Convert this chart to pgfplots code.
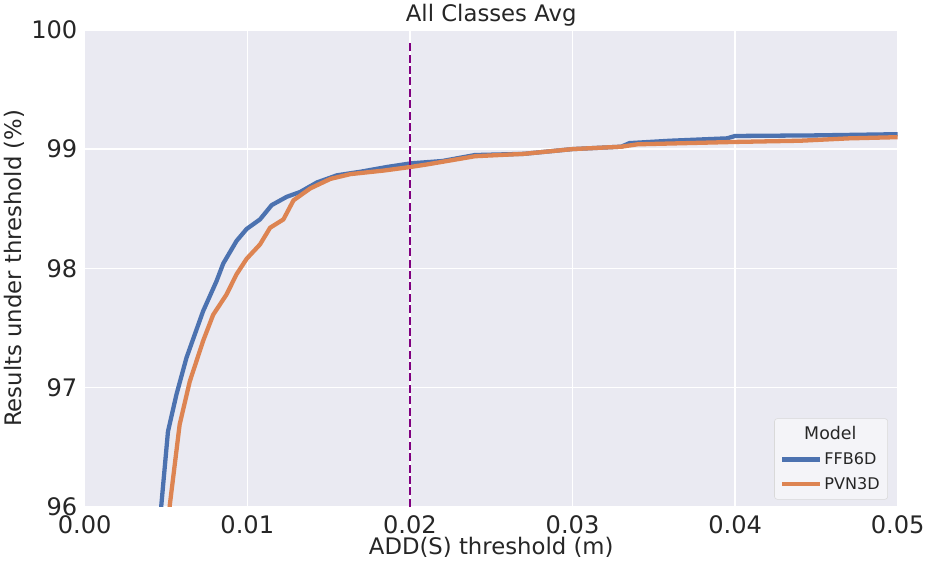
\documentclass[border=0pt]{standalone}
\usepackage{pgfplots}
\pgfplotsset{compat=1.18}
\usepackage{fontspec}
\setmainfont{DejaVu Sans}
\definecolor{sbbg}{HTML}{EAEAF2}
\definecolor{sbblue}{HTML}{4C72B0}
\definecolor{sborange}{HTML}{DD8452}
\definecolor{vpurple}{HTML}{800080}
\begin{document}
\begin{tikzpicture}
\begin{axis}[
  scale only axis,
  width=607pt, height=356pt,
  xmin=0, xmax=0.05, ymin=96, ymax=100,
  xtick={0,0.01,0.02,0.03,0.04,0.05},
  xticklabels={0.00,0.01,0.02,0.03,0.04,0.05},
  ytick={96,97,98,99,100},
  /pgf/number format/assume math mode=true,
  scaled x ticks=false,
  tick label style={font=\fontsize{18}{20}\selectfont, text=black!85},
  xticklabel style={yshift=-3pt},
  yticklabel style={xshift=-2pt},
  major tick length=0pt,
  axis background/.style={fill=sbbg},
  axis line style={draw=none},
  grid=major,
  major grid style={white, line width=1pt},
  title={All Classes Avg},
  title style={font=\fontsize{17}{19}\selectfont, text=black!85, yshift=-7pt},
  xlabel={ADD(S) threshold (m)},
  ylabel={Results under threshold (\%)},
  label style={font=\fontsize{17}{19}\selectfont, text=black!85},
  xlabel style={yshift=4pt},
  ylabel style={yshift=-2pt},
  legend style={at={(0.988,0.015)}, anchor=south east, fill=sbbg!50!white, draw=black!15, rounded corners=2pt, font=\fontsize{12}{14}\selectfont, text=black!85, row sep=4pt, inner sep=4pt},
  legend cell align=left,
  legend image code/.code={\draw[#1] (0pt,0pt) -- (28pt,0pt);},
  every axis plot/.append style={line join=round},
]
\addlegendimage{empty legend}
\addlegendentry{\hspace{-15pt}\fontsize{13}{15}\selectfont Model}
\addplot[sbblue, line width=3.2pt] coordinates {
(0.0045,95.6) (0.00471,96.01) (0.00512,96.63) (0.00564,96.94) (0.00626,97.25)
(0.00728,97.64) (0.0081,97.89) (0.00852,98.04) (0.00934,98.23) (0.00996,98.33)
(0.01078,98.41) (0.0115,98.53) (0.01243,98.60) (0.01325,98.64) (0.01428,98.72)
(0.01551,98.78) (0.01696,98.81) (0.0186,98.85) (0.02004,98.88) (0.022,98.90)
(0.024,98.95) (0.027,98.96) (0.030,99.00) (0.033,99.02) (0.0335,99.05)
(0.036,99.07) (0.0395,99.09) (0.040,99.11) (0.045,99.115) (0.050,99.125)
};
\addlegendentry{FFB6D}
\addplot[sborange, line width=3.2pt] coordinates {
(0.0050,95.6) (0.00523,96.01) (0.00584,96.69) (0.00646,97.05) (0.00728,97.39)
(0.0079,97.61) (0.00872,97.78) (0.00934,97.95) (0.00996,98.08) (0.01078,98.20)
(0.0114,98.34) (0.01222,98.41) (0.01284,98.57) (0.01387,98.67) (0.01511,98.75)
(0.01634,98.79) (0.0184,98.82) (0.02004,98.85) (0.021,98.87) (0.024,98.94)
(0.027,98.96) (0.030,99.00) (0.033,99.02) (0.034,99.04) (0.040,99.06)
(0.044,99.07) (0.047,99.09) (0.050,99.10)
};
\addlegendentry{PVN3D}
\addplot[vpurple, line width=1.4pt, dash pattern=on 6pt off 2.5pt, forget plot] coordinates {(0.02,96) (0.02,99.9)};
\end{axis}
\end{tikzpicture}
\end{document}
